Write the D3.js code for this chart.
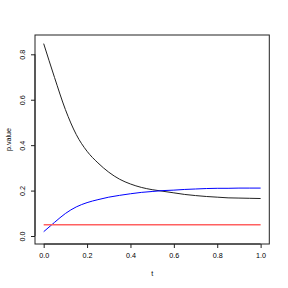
<!DOCTYPE html>
<html lang="en">
<head>
    <meta charset="UTF-8">
    <title>p.value vs t</title>
    <script src="https://d3js.org/d3.v7.min.js"></script>
    <style>
        body { margin: 0; padding: 0; background: #fff; }
        svg text { font-family: "Liberation Sans", Arial, sans-serif; font-size: 7.2px; fill: #000; }
        .line { fill: none; stroke-width: 1px; }
    </style>
</head>
<body>
    <svg id="chart" width="288" height="288"></svg>

    <script>
        // values
        const tValues = [0, 0.05, 0.1, 0.15, 0.2, 0.25, 0.3, 0.35, 0.4, 0.45, 0.5,
                         0.55, 0.6, 0.65, 0.7, 0.75, 0.8, 0.85, 0.9, 0.95, 1.0];
        const blackSeries = [0.847, 0.698, 0.557, 0.447, 0.373, 0.322, 0.281, 0.25, 0.229, 0.214, 0.204,
                             0.197, 0.19, 0.183, 0.178, 0.174, 0.171, 0.168, 0.167, 0.166, 0.165];
        const blueSeries = [0.019, 0.06, 0.099, 0.128, 0.147, 0.16, 0.171, 0.179, 0.186, 0.192, 0.196,
                            0.2, 0.202, 0.205, 0.207, 0.209, 0.21, 0.21, 0.211, 0.211, 0.211];
        const redLevel = 0.05;
        const xTicks = [0, 0.2, 0.4, 0.6, 0.8, 1.0];
        const yTicks = [0, 0.2, 0.4, 0.6, 0.8];

        const plotLeft = 35, plotRight = 269.3, plotTop = 35, plotBottom = 244;

        const svg = d3.select("#chart");

        const x = d3.scaleLinear().domain([-0.04, 1.04]).range([plotLeft, plotRight]);
        const y = d3.scaleLinear().domain([-0.0352, 0.885]).range([plotBottom, plotTop]);

        const line = d3.line()
            .x((d, i) => x(tValues[i]))
            .y(d => y(d))
            .curve(d3.curveMonotoneX);

        svg.append("path")
            .datum(blackSeries)
            .attr("class", "line")
            .attr("stroke", "#222")
            .attr("d", line);

        svg.append("path")
            .datum(blueSeries)
            .attr("class", "line")
            .attr("stroke", "#0000ff")
            .attr("d", line);

        svg.append("line")
            .attr("x1", x(0)).attr("x2", x(1))
            .attr("y1", y(redLevel)).attr("y2", y(redLevel))
            .attr("stroke", "#ff6060")
            .attr("stroke-width", 1.5);

        // box
        svg.append("rect")
            .attr("x", plotLeft).attr("y", plotTop)
            .attr("width", plotRight - plotLeft).attr("height", plotBottom - plotTop)
            .attr("fill", "none").attr("stroke", "#222").attr("stroke-width", 1);

        // x axis
        const xAxis = d3.axisBottom(x).tickValues(xTicks).tickSize(4).tickPadding(5)
            .tickFormat(d3.format(".1f"));
        const gx = svg.append("g").attr("transform", `translate(0,${plotBottom})`).call(xAxis);
        gx.select(".domain").attr("d", `M${x(0)},0H${x(1)}`).attr("stroke", "#222");
        gx.selectAll("line").attr("stroke", "#222");
        gx.selectAll("text").attr("fill", "#000")
            .style("font-size", "7.2px").style("font-family", "Liberation Sans, Arial, sans-serif");

        // y axis, labels rotated like R
        const yAxis = d3.axisLeft(y).tickValues(yTicks).tickSize(4).tickPadding(0)
            .tickFormat(d3.format(".1f"));
        const gy = svg.append("g").attr("transform", `translate(${plotLeft},0)`).call(yAxis);
        gy.select(".domain").attr("d", `M0,${y(0)}V${y(0.8)}`).attr("stroke", "#222");
        gy.selectAll("line").attr("stroke", "#222");
        gy.selectAll("text")
            .attr("x", null)
            .attr("fill", "#000")
            .attr("text-anchor", "middle")
            .attr("transform", "translate(-13,0) rotate(-90)")
            .attr("dy", "0.35em")
            .style("font-size", "7.2px").style("font-family", "Liberation Sans, Arial, sans-serif");

        svg.append("text")
            .attr("x", (plotLeft + plotRight) / 2).attr("y", 276)
            .attr("text-anchor", "middle")
            .text("t");

        svg.append("text")
            .attr("transform", `translate(11,${(plotTop + plotBottom) / 2}) rotate(-90)`)
            .attr("text-anchor", "middle")
            .text("p.value");
    </script>
</body>
</html>
